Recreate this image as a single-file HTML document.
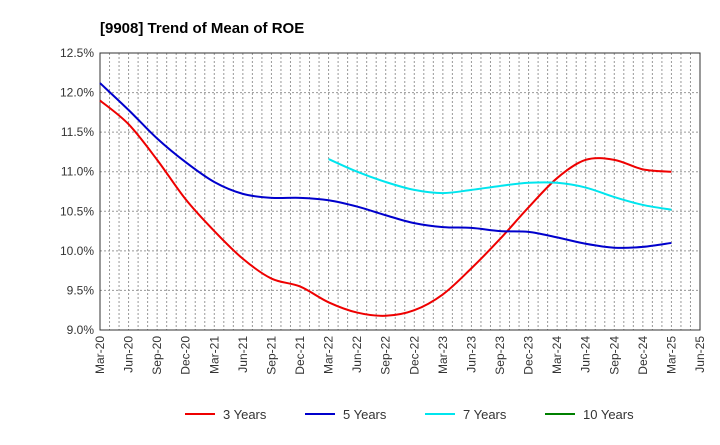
<!DOCTYPE html>
<html><head><meta charset="utf-8"><style>body{margin:0;background:#fff;font-family:"Liberation Sans",sans-serif}</style></head>
<body>
<svg id="c" width="720" height="440" xmlns="http://www.w3.org/2000/svg">
<text x="100" y="33" font-size="15" font-weight="bold" fill="#000">[9908]  Trend of Mean of ROE</text>
<g id="grid"></g><g id="axes"></g><g id="series"></g><g id="legend"></g>
</svg>
<script>
const xTicks=["Mar-20","Jun-20","Sep-20","Dec-20","Mar-21","Jun-21","Sep-21","Dec-21","Mar-22","Jun-22","Sep-22","Dec-22","Mar-23","Jun-23","Sep-23","Dec-23","Mar-24","Jun-24","Sep-24","Dec-24","Mar-25","Jun-25"];
const yTicks=[9.0,9.5,10.0,10.5,11.0,11.5,12.0,12.5];
const s3=[11.9,11.6,11.15,10.65,10.25,9.9,9.65,9.55,9.35,9.22,9.18,9.25,9.45,9.78,10.15,10.55,10.92,11.15,11.15,11.03,11.0];
const s5=[12.12,11.78,11.42,11.12,10.87,10.72,10.67,10.67,10.64,10.56,10.45,10.35,10.30,10.29,10.25,10.24,10.17,10.09,10.04,10.05,10.10];
const s7=[11.16,11.0,10.87,10.77,10.73,10.77,10.82,10.86,10.86,10.8,10.68,10.58,10.52];
const s7Start=8;
const s10=[];
const names=["3 Years","5 Years","7 Years","10 Years"];
const colors=["#ee0000","#0000cc","#00e5ee","#008000"];
const L=100,R=700,T=53,B=330;
const X=i=>L+i*(R-L)/(xTicks.length-1);
const Y=v=>B-(v-9)*(B-T)/3.5;
const NS="http://www.w3.org/2000/svg";
function mk(tag,attrs,parent){const e=document.createElementNS(NS,tag);for(const k in attrs)e.setAttribute(k,attrs[k]);parent.appendChild(e);return e;}
const grid=document.getElementById('grid'),axes=document.getElementById('axes'),ser=document.getElementById('series'),leg=document.getElementById('legend');
for(let m=1;m<(xTicks.length-1)*3;m++){const x=L+m*(R-L)/((xTicks.length-1)*3);const l=mk('line',{x1:x,x2:x,y1:T,y2:B,stroke:'#999','stroke-dasharray':'2,2','stroke-width':1},grid);

}
yTicks.forEach(v=>{const y=Y(v);const l=mk('line',{x1:L,x2:R,y1:y,y2:y,stroke:'#999','stroke-dasharray':'2,2'},grid);


const t=mk('text',{x:L-6,y:y+4,'text-anchor':'end','font-size':12,fill:'#333'},axes);t.textContent=v.toFixed(1)+'%';

});
const fr=mk('rect',{x:L,y:T,width:R-L,height:B-T,fill:'none',stroke:'#333'},axes);


xTicks.forEach((s,i)=>{const x=X(i);const t=mk('text',{transform:`translate(${x+4},${B+6}) rotate(-90)`,'text-anchor':'end','font-size':12,fill:'#333'},axes);t.textContent=s;

});
function path(vals,start){const p=vals.map((v,i)=>[X(i+start),Y(v)]);if(!p.length)return '';let d=`M${p[0][0]},${p[0][1]}`;
for(let i=0;i<p.length-1;i++){const p0=p[i-1]||p[i],p1=p[i],p2=p[i+1],p3=p[i+2]||p2;
d+=` C${p1[0]+(p2[0]-p0[0])/6},${p1[1]+(p2[1]-p0[1])/6} ${p2[0]-(p3[0]-p1[0])/6},${p2[1]-(p3[1]-p1[1])/6} ${p2[0]},${p2[1]}`;}return d;}
[[s3,0],[s5,0],[s7,s7Start],[s10,0]].forEach((a,k)=>{if(!a[0].length)return;const e=mk('path',{d:path(a[0],a[1]),fill:'none',stroke:colors[k],'stroke-width':2},ser);

});
const lx=[185,305,425,545];
names.forEach((n,k)=>{const g=mk('g',{},leg);


mk('line',{x1:lx[k],x2:lx[k]+30,y1:414,y2:414,stroke:colors[k],'stroke-width':2},g);
const t=mk('text',{x:lx[k]+38,y:419,'font-size':13,fill:'#333'},g);t.textContent=n;});
</script>
</body></html>
